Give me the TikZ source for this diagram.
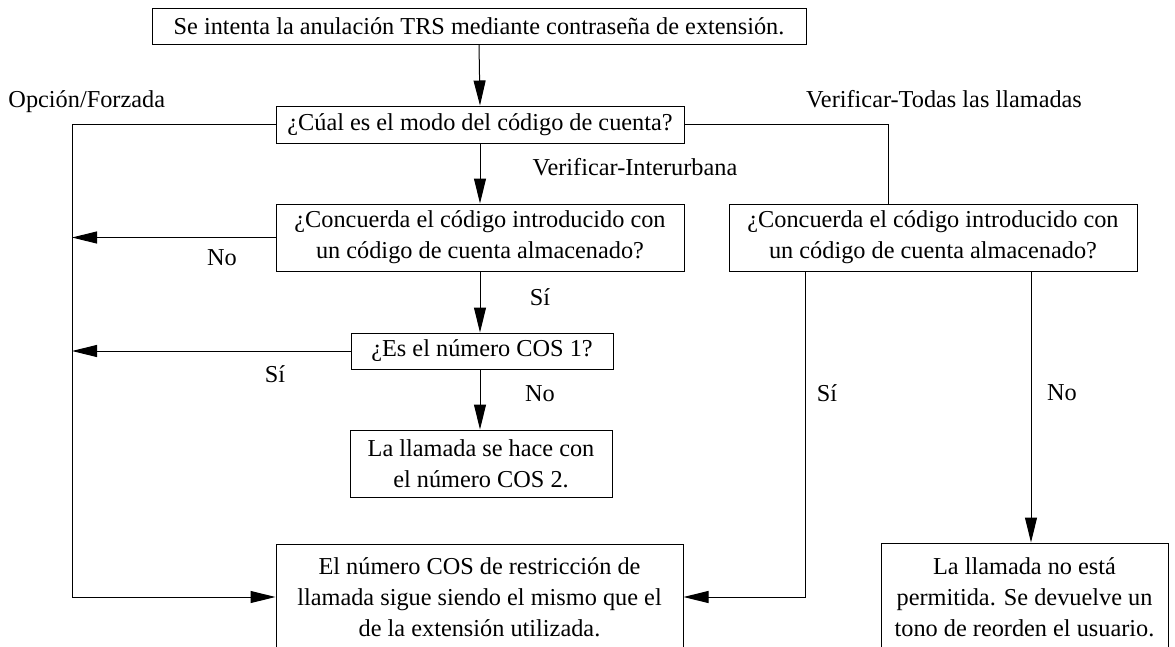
\documentclass[tikz,border=0pt]{standalone}
\usepackage{fontspec}
\setmainfont{Liberation Serif}
\usetikzlibrary{arrows.meta}
\begin{document}
\begin{tikzpicture}[x=1pt,y=-1pt,
  font=\fontsize{24.3}{31}\selectfont,
  every path/.style={line width=1pt},
  box/.style={draw,line width=1pt,align=center,inner sep=0pt},
  lbl/.style={inner sep=0pt},
  arr/.style={-{Triangle[length=25pt,width=12pt]}}]
\useasboundingbox (0,0) rectangle (1175,646);
\node[box,minimum width=654pt,minimum height=36pt] (top) at (479,26) {Se intenta la anulación TRS mediante contraseña de extensión.};
\node[box,minimum width=408pt,minimum height=37pt] (q1) at (480,124.5) {¿Cúal es el modo del código de cuenta?};
\node[box,minimum width=408pt,minimum height=67pt] (q2) at (480,237.5) {¿Concuerda el código introducido con\\un código de cuenta almacenado?};
\node[box,minimum width=408pt,minimum height=67pt] (q3) at (933,237.5) {¿Concuerda el código introducido con\\un código de cuenta almacenado?};
\node[box,minimum width=262pt,minimum height=36pt] (cos1) at (482,351) {¿Es el número COS 1?};
\node[box,minimum width=262pt,minimum height=67pt] (cos2) at (481,463.5) {La llamada se hace con\\el número COS 2.};
\node[box,minimum width=407pt,minimum height=106pt] (same) at (479.5,597) {El número COS de restricción de\\llamada sigue siendo el mismo que el\\de la extensión utilizada.};
\node[box,minimum width=287pt,minimum height=108pt] (deny) at (1024.5,597) {La llamada no está\\permitida. Se devuelve un\\tono de reorden el usuario.};

\node[lbl,anchor=west] (lof) at (8,102) {Opción/Forzada};
\node[lbl] (lvt) at (944,99) {Verificar-Todas las llamadas};
\node[lbl] (lvi) at (635,167) {Verificar-Interurbana};
\node[lbl] (ln1) at (222,258) {No};
\node[lbl] (ls1) at (540,297) {Sí};
\node[lbl] (ls2) at (275,374) {Sí};
\node[lbl] (ln2) at (540,394) {No};
\node[lbl] (ls3) at (827,393) {Sí};
\node[lbl] (ln3) at (1062,393) {No};

\coordinate (Lc) at (72,0);
\coordinate (Rc) at (888,0);
\coordinate (S1) at (805,0);
\coordinate (D1) at (1031,0);

\draw[arr] (top.south) -- (q1.north);
\draw[arr] (q1.south) -- (q2.north);
\draw[arr] (q2.south) -- (cos1.north -| q2.south);
\draw[arr] (cos1.south -| q2.south) -- (cos2.north -| q2.south);
\draw[arr] (q1.west) -| (Lc |- same.west) -- (same.west);
\draw[arr] (q2.west) -- (Lc |- q2.west);
\draw[arr] (cos1.west) -- (Lc |- cos1.west);
\draw (q1.east) -| (Rc |- q3.north);
\draw[arr] (S1 |- q3.south) |- (same.east);
\draw[arr] (D1 |- q3.south) -- (D1 |- deny.north);
\end{tikzpicture}
\end{document}
